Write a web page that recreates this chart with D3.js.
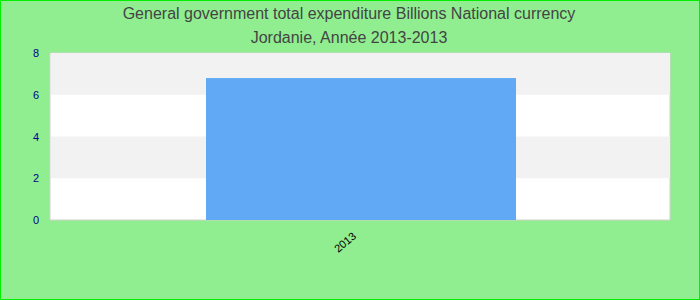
<!DOCTYPE html>
<html><head><meta charset="utf-8">
<script src="https://cdn.jsdelivr.net/npm/d3@7"></script>
<style>body{margin:0;}svg{display:block;}</style>
</head><body>
<script>
const categories = ["2013"];
const values = [6.8];
const yTicks = [0, 2, 4, 6, 8];
const titleLines = ["General government total expenditure Billions National currency", "Jordanie, Année 2013-2013"];

const W = 700, H = 300;
const m = {left: 50, right: 30, top: 53, bottom: 80};
const svg = d3.select("body").append("svg").attr("width", W).attr("height", H);
svg.append("rect").attr("x", 0.5).attr("y", 0.5).attr("width", W - 1).attr("height", H - 1)
  .attr("fill", "#90ee90").attr("stroke", "#00ee00");

const x = d3.scaleBand().domain(categories).range([m.left, W - m.right]).padding(1/3);
const y = d3.scaleLinear().domain([0, 8]).range([H - m.bottom, m.top]);

const g = svg.append("g");
g.append("rect").attr("x", m.left).attr("y", m.top).attr("width", W - m.left - m.right)
  .attr("height", H - m.top - m.bottom).attr("fill", "#fff").attr("stroke", "#d0d0d0");
for (let i = 0; i < yTicks.length - 1; i++) {
  if (i % 2 === 1) {
    g.append("rect").attr("x", m.left + 1).attr("width", W - m.left - m.right - 1)
      .attr("y", y(yTicks[i + 1])).attr("height", y(yTicks[i]) - y(yTicks[i + 1]))
      .attr("fill", "#f2f2f2");
  }
}

g.selectAll(".bar").data(values).join("rect").attr("class", "bar")
  .attr("x", (d, i) => x(categories[i]) + 1).attr("width", x.bandwidth())
  .attr("y", d => y(d)).attr("height", d => y(0) - y(d)).attr("fill", "#61a9f5");

const ya = svg.append("g").attr("transform", `translate(${m.left},0)`)
  .call(d3.axisLeft(y).tickValues(yTicks).tickSize(0).tickPadding(11));
ya.select(".domain").remove();
ya.selectAll("text").attr("fill", "#00008b").style("font-family", "Liberation Sans, Arial, sans-serif").style("font-size", "11px");

const xa = svg.append("g").attr("transform", `translate(0,${H - m.bottom})`)
  .call(d3.axisBottom(x).tickSize(0));
xa.select(".domain").remove();
xa.selectAll("text").attr("fill", "#000").style("font-family", "Liberation Sans, Arial, sans-serif").style("font-size", "11px")
  .attr("text-anchor", "end").attr("dx", 0).attr("dy", 0)
  .attr("transform", "translate(-5,15) rotate(-40)");

svg.selectAll(".title").data(titleLines).join("text").attr("class", "title")
  .attr("x", W / 2 - 1).attr("y", (d, i) => 19 + i * 24).attr("text-anchor", "middle")
  .attr("fill", "#444").style("font-family", "Liberation Sans, Arial, sans-serif").style("font-size", "16px")
  .text(d => d);
</script>
</body></html>
